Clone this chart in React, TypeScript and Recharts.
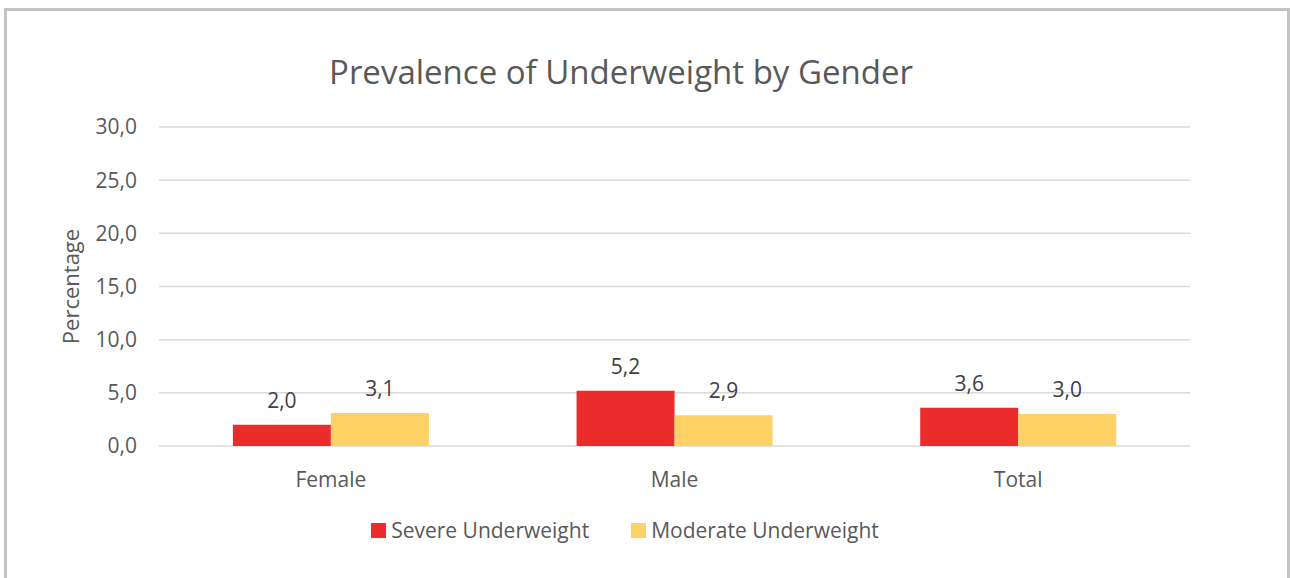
import React from 'react';
import { BarChart, Bar, XAxis, YAxis, CartesianGrid, Legend, LabelList } from 'recharts';

const categories = ['Female', 'Male', 'Total'];
const severe = [2.0, 5.2, 3.6];
const moderate = [3.1, 2.9, 3.0];
const yTicks = [0, 5, 10, 15, 20, 25, 30];
const seriesNames = ['Severe Underweight', 'Moderate Underweight'];
const seriesColors = ['#EC2B2B', '#FDD166'];

const data = categories.map((c, i) => ({ category: c, severe: severe[i], moderate: moderate[i] }));

const fmt = (v: any) => Number(v).toFixed(1).replace('.', ',');

const FONT = '"Open Sans", sans-serif';

const LegendContent = () => (
  <div
    style={{
      display: 'flex',
      justifyContent: 'center',
      alignItems: 'center',
      height: 30,
      fontFamily: FONT,
      fontSize: 21,
      color: '#595959',
      gap: 42,
    }}
  >
    {seriesNames.map((n, i) => (
      <div key={n} style={{ display: 'flex', alignItems: 'center' }}>
        <span style={{ display: 'inline-block', width: 15, height: 15, background: seriesColors[i], marginRight: 5 }} />
        <span>{n}</span>
      </div>
    ))}
  </div>
);

export default function App() {
  return (
    <div style={{ position: 'absolute', left: 0, top: 0, width: 1290, height: 578, background: '#fff', overflow: 'hidden' }}>
      <div
        style={{
          position: 'absolute',
          left: 4,
          top: 8,
          width: 1280,
          height: 620,
          border: '3px solid #c4c4c4',
        }}
      />
      <div
        style={{
          position: 'absolute',
          left: 0,
          top: 49,
          width: 1242,
          textAlign: 'center',
          fontFamily: FONT,
          fontSize: 33,
          color: '#595959',
          lineHeight: '46px',
        }}
      >
        Prevalence of Underweight by Gender
      </div>
      <div style={{ position: 'absolute', left: 0, top: 0 }}>
        <BarChart
          width={1290}
          height={578}
          data={data}
          margin={{ top: 127, right: 100, bottom: 62, left: 32 }}
          barCategoryGap="21.5%"
          barGap={0}
        >
          <CartesianGrid vertical={false} stroke="#d9d9d9" strokeWidth={1.5} />
          <XAxis
            dataKey="category"
            tickLine={false}
            axisLine={false}
            height={40}
            tickMargin={20}
            tick={{ fill: '#595959', fontSize: 21, fontFamily: FONT }}
          />
          <YAxis
            width={127}
            domain={[0, 30]}
            ticks={yTicks}
            interval={0}
            tickLine={false}
            axisLine={false}
            tickMargin={16}
            tickFormatter={fmt}
            tick={{ fill: '#595959', fontSize: 21, fontFamily: FONT }}
            label={{
              value: 'Percentage',
              angle: -90,
              position: 'center',
              dx: -24,
              style: { fill: '#595959', fontSize: 22, fontFamily: FONT, textAnchor: 'middle' },
            }}
          />
          <Legend verticalAlign="bottom" height={30} content={<LegendContent />} wrapperStyle={{ top: 515, left: 0, width: 1250 }} />
          <Bar dataKey="severe" name={seriesNames[0]} fill={seriesColors[0]} isAnimationActive={false}>
            <LabelList dataKey="severe" position="top" offset={17} formatter={fmt} fill="#404040" fontSize={21} fontFamily={FONT} />
          </Bar>
          <Bar dataKey="moderate" name={seriesNames[1]} fill={seriesColors[1]} isAnimationActive={false}>
            <LabelList dataKey="moderate" position="top" offset={17} formatter={fmt} fill="#404040" fontSize={21} fontFamily={FONT} />
          </Bar>
        </BarChart>
      </div>
    </div>
  );
}
